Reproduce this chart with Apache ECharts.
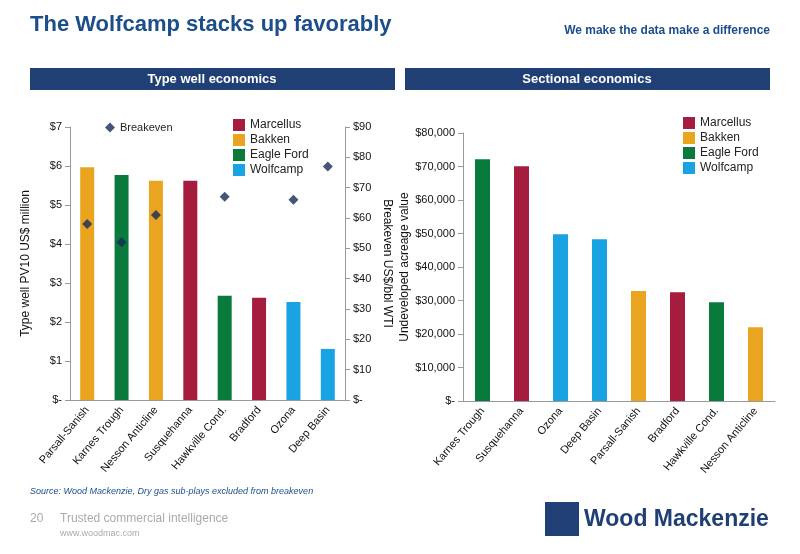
<!DOCTYPE html>
<html><head><meta charset="utf-8">
<script src="https://cdn.jsdelivr.net/npm/echarts@6/dist/echarts.min.js"></script>
<style>body{margin:0}#c{width:800px;height:554px}</style></head>
<body><div id="c"></div>
<script>
var leftCats=['Parsall-Sanish','Karnes Trough','Nesson Anticline','Susquehanna','Hawkville Cond.','Bradford','Ozona','Deep Basin'];
var leftPlay=['Bakken','Eagle Ford','Bakken','Marcellus','Eagle Ford','Marcellus','Wolfcamp','Wolfcamp'];
var leftPV10=[5.97,5.77,5.62,5.62,2.67,2.62,2.51,1.31];
var breakeven=[58,52,61,null,67,null,66,77];
var rightCats=['Karnes Trough','Susquehanna','Ozona','Deep Basin','Parsall-Sanish','Bradford','Hawkville Cond.','Nesson Anticline'];
var rightPlay=['Eagle Ford','Marcellus','Wolfcamp','Wolfcamp','Bakken','Marcellus','Eagle Ford','Bakken'];
var rightVal=[72200,70100,49800,48300,32800,32500,29500,22000];
var plays=['Marcellus','Bakken','Eagle Ford','Wolfcamp'];
var colors={'Marcellus':'#A51C3E','Bakken':'#E9A520','Eagle Ford':'#0A7A3C','Wolfcamp':'#1AA3E3'};

var font='Arial, Liberation Sans, sans-serif';
function money(v){return v===0?'$-':'$'+v;}
function money2(v){return v===0?'$-':'$'+v.toLocaleString('en-US');}
var axisLab={color:'#111',fontSize:11,fontFamily:font};

var series=[];
plays.forEach(function(p){
  series.push({name:p,type:'bar',stack:'l',xAxisIndex:0,yAxisIndex:0,barWidth:14,itemStyle:{color:colors[p]},
    data:leftPV10.map(function(v,i){return leftPlay[i]===p?v:null;})});
  series.push({name:p,type:'bar',stack:'r',xAxisIndex:1,yAxisIndex:2,barWidth:15,itemStyle:{color:colors[p]},
    data:rightVal.map(function(v,i){return rightPlay[i]===p?v:null;})});
});
series.push({name:'Breakeven',type:'scatter',xAxisIndex:0,yAxisIndex:1,symbol:'diamond',symbolSize:10,
  itemStyle:{color:'#15295A'},data:breakeven});

var chart=echarts.init(document.getElementById('c'));
chart.setOption({
  animation:false,
  textStyle:{fontFamily:font},
  legend:[
    {data:['Breakeven'],left:100,top:117,itemWidth:10,itemHeight:10,itemGap:2,textStyle:{fontSize:11,color:'#222'}},
    {data:plays,orient:'vertical',left:228,top:114,itemWidth:12,itemHeight:12,itemGap:3,icon:'rect',textStyle:{fontSize:12,color:'#222'}},
    {data:plays,orient:'vertical',left:678,top:112,itemWidth:12,itemHeight:12,itemGap:3,icon:'rect',textStyle:{fontSize:12,color:'#222'}}
  ],
  grid:[{left:70,top:127,width:275,height:273},{left:463,top:133,width:312,height:268}],
  xAxis:[
    {type:'category',gridIndex:0,data:leftCats,axisTick:{show:false},axisLine:{lineStyle:{color:'#999'}},
      axisLabel:Object.assign({rotate:50,interval:0},axisLab)},
    {type:'category',gridIndex:1,data:rightCats,axisTick:{show:false},axisLine:{lineStyle:{color:'#999'}},
      axisLabel:Object.assign({rotate:50,interval:0},axisLab)}
  ],
  yAxis:[
    {type:'value',gridIndex:0,min:0,max:7,interval:1,splitLine:{show:false},axisLine:{show:true,lineStyle:{color:'#999'}},
      axisTick:{show:true},axisLabel:Object.assign({formatter:money},axisLab),
      name:'Type well PV10 US$ million',nameLocation:'middle',nameGap:38,nameTextStyle:{fontSize:12,color:'#111'}},
    {type:'value',gridIndex:0,min:0,max:90,interval:10,position:'right',splitLine:{show:false},axisLine:{show:true,lineStyle:{color:'#999'}},
      axisTick:{show:true},axisLabel:Object.assign({formatter:money},axisLab),
      name:'Breakeven US$/bbl WTI',nameLocation:'middle',nameGap:36,nameRotate:-90,nameTextStyle:{fontSize:12,color:'#111'}},
    {type:'value',gridIndex:1,min:0,max:80000,interval:10000,splitLine:{show:false},axisLine:{show:true,lineStyle:{color:'#999'}},
      axisTick:{show:true},axisLabel:Object.assign({formatter:money2},axisLab),
      name:'Undeveloped acreage value',nameLocation:'middle',nameGap:52,nameTextStyle:{fontSize:12,color:'#111'}}
  ],
  series:series,
  graphic:[
    {type:'text',left:30,top:14,style:{text:'The Wolfcamp stacks up favorably',font:'bold 22px '+font,fill:'#1C4E8C'}},
    {type:'text',right:30,top:25,style:{text:'We make the data make a difference',font:'bold 12px '+font,fill:'#1C4E8C'}},
    {type:'rect',shape:{x:30,y:68,width:365,height:22},style:{fill:'#1F3F75'}},
    {type:'rect',shape:{x:405,y:68,width:365,height:22},style:{fill:'#1F3F75'}},
    {type:'text',x:212,y:79,style:{text:'Type well economics',font:'bold 13px '+font,fill:'#fff',align:'center',verticalAlign:'middle'}},
    {type:'text',x:587,y:79,style:{text:'Sectional economics',font:'bold 13px '+font,fill:'#fff',align:'center',verticalAlign:'middle'}},
    {type:'text',left:30,top:487,style:{text:'Source: Wood Mackenzie, Dry gas sub-plays excluded from breakeven',font:'italic 9px '+font,fill:'#1C4E8C'}},
    {type:'text',left:30,top:513,style:{text:'20',font:'12px '+font,fill:'#aaa'}},
    {type:'text',left:60,top:513,style:{text:'Trusted commercial intelligence',font:'12px '+font,fill:'#aaa'}},
    {type:'text',left:60,top:529,style:{text:'www.woodmac.com',font:'9px '+font,fill:'#aaa'}},
    {type:'rect',shape:{x:545,y:502,width:34,height:34},style:{fill:'#1F3F75'}},
    {type:'text',left:584,top:508,style:{text:'Wood Mackenzie',font:'bold 23px '+font,fill:'#1F3F75'}}
  ]
});
</script></body></html>
